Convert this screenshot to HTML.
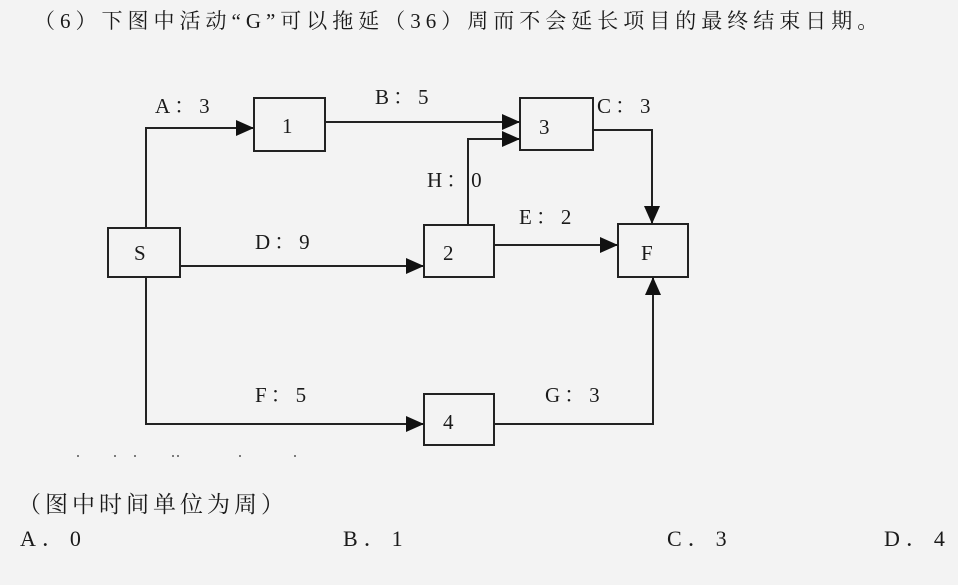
<!DOCTYPE html>
<html><head><meta charset="utf-8"><style>
html,body{margin:0;padding:0;background:#f3f3f3;}
body{width:958px;height:585px;overflow:hidden;position:relative;}
svg{position:absolute;left:0;top:0;}
text{font-family:"Liberation Serif","Noto Serif CJK SC",serif;fill:#1a1a1a;}
</style></head><body>
<svg width="958" height="585" viewBox="0 0 958 585">
<defs><marker id="a" markerWidth="18" markerHeight="16" refX="17" refY="8" orient="auto" markerUnits="userSpaceOnUse"><path d="M0,0 L18,8 L0,16 z" fill="#111"/></marker></defs>
<text x="34" y="28" font-size="21" letter-spacing="5">（6）下图中活动“G”可以拖延（36）周而不会延长项目的最终结束日期。</text>
<g fill="none" stroke="#222" stroke-width="2">
<rect x="108" y="228" width="72" height="49"/>
<rect x="254" y="98" width="71" height="53"/>
<rect x="520" y="98" width="73" height="52"/>
<rect x="424" y="225" width="70" height="52"/>
<rect x="618" y="224" width="70" height="53"/>
<rect x="424" y="394" width="70" height="51"/>
<polyline points="146,228 146,128 253,128" marker-end="url(#a)"/>
<line x1="325" y1="122" x2="519" y2="122" marker-end="url(#a)"/>
<polyline points="468,225 468,139 519,139" marker-end="url(#a)"/>
<polyline points="593,130 652,130 652,223" marker-end="url(#a)"/>
<line x1="494" y1="245" x2="617" y2="245" marker-end="url(#a)"/>
<line x1="180" y1="266" x2="423" y2="266" marker-end="url(#a)"/>
<polyline points="146,277 146,424 423,424" marker-end="url(#a)"/>
<polyline points="494,424 653,424 653,278" marker-end="url(#a)"/>
</g>
<g font-size="21">
<text x="134" y="260">S</text>
<text x="282" y="133">1</text>
<text x="539" y="134">3</text>
<text x="443" y="260">2</text>
<text x="641" y="260">F</text>
<text x="443" y="429">4</text>
<text x="155" y="113" letter-spacing="4">A：3</text>
<text x="375" y="104" letter-spacing="4">B：5</text>
<text x="597" y="113" letter-spacing="4">C：3</text>
<text x="427" y="187" letter-spacing="4">H：0</text>
<text x="519" y="224" letter-spacing="4">E：2</text>
<text x="255" y="249" letter-spacing="4">D：9</text>
<text x="255" y="402" letter-spacing="4">F：5</text>
<text x="545" y="402" letter-spacing="4">G：3</text>
</g>
<g fill="#555"><circle cx="78" cy="456" r="1"/><circle cx="115" cy="456" r="1"/><circle cx="135" cy="456" r="1"/><circle cx="173" cy="456" r="1"/><circle cx="178" cy="456" r="1"/><circle cx="240" cy="456" r="1"/><circle cx="295" cy="456" r="1"/></g>
<text x="18" y="512" font-size="23" letter-spacing="4">（图中时间单位为周）</text>
<g font-size="22">
<text x="20" y="546" letter-spacing="6">A．0</text>
<text x="343" y="546" letter-spacing="6">B．1</text>
<text x="667" y="546" letter-spacing="6">C．3</text>
<text x="884" y="546" letter-spacing="6">D．4</text>
</g>
</svg>
</body></html>
